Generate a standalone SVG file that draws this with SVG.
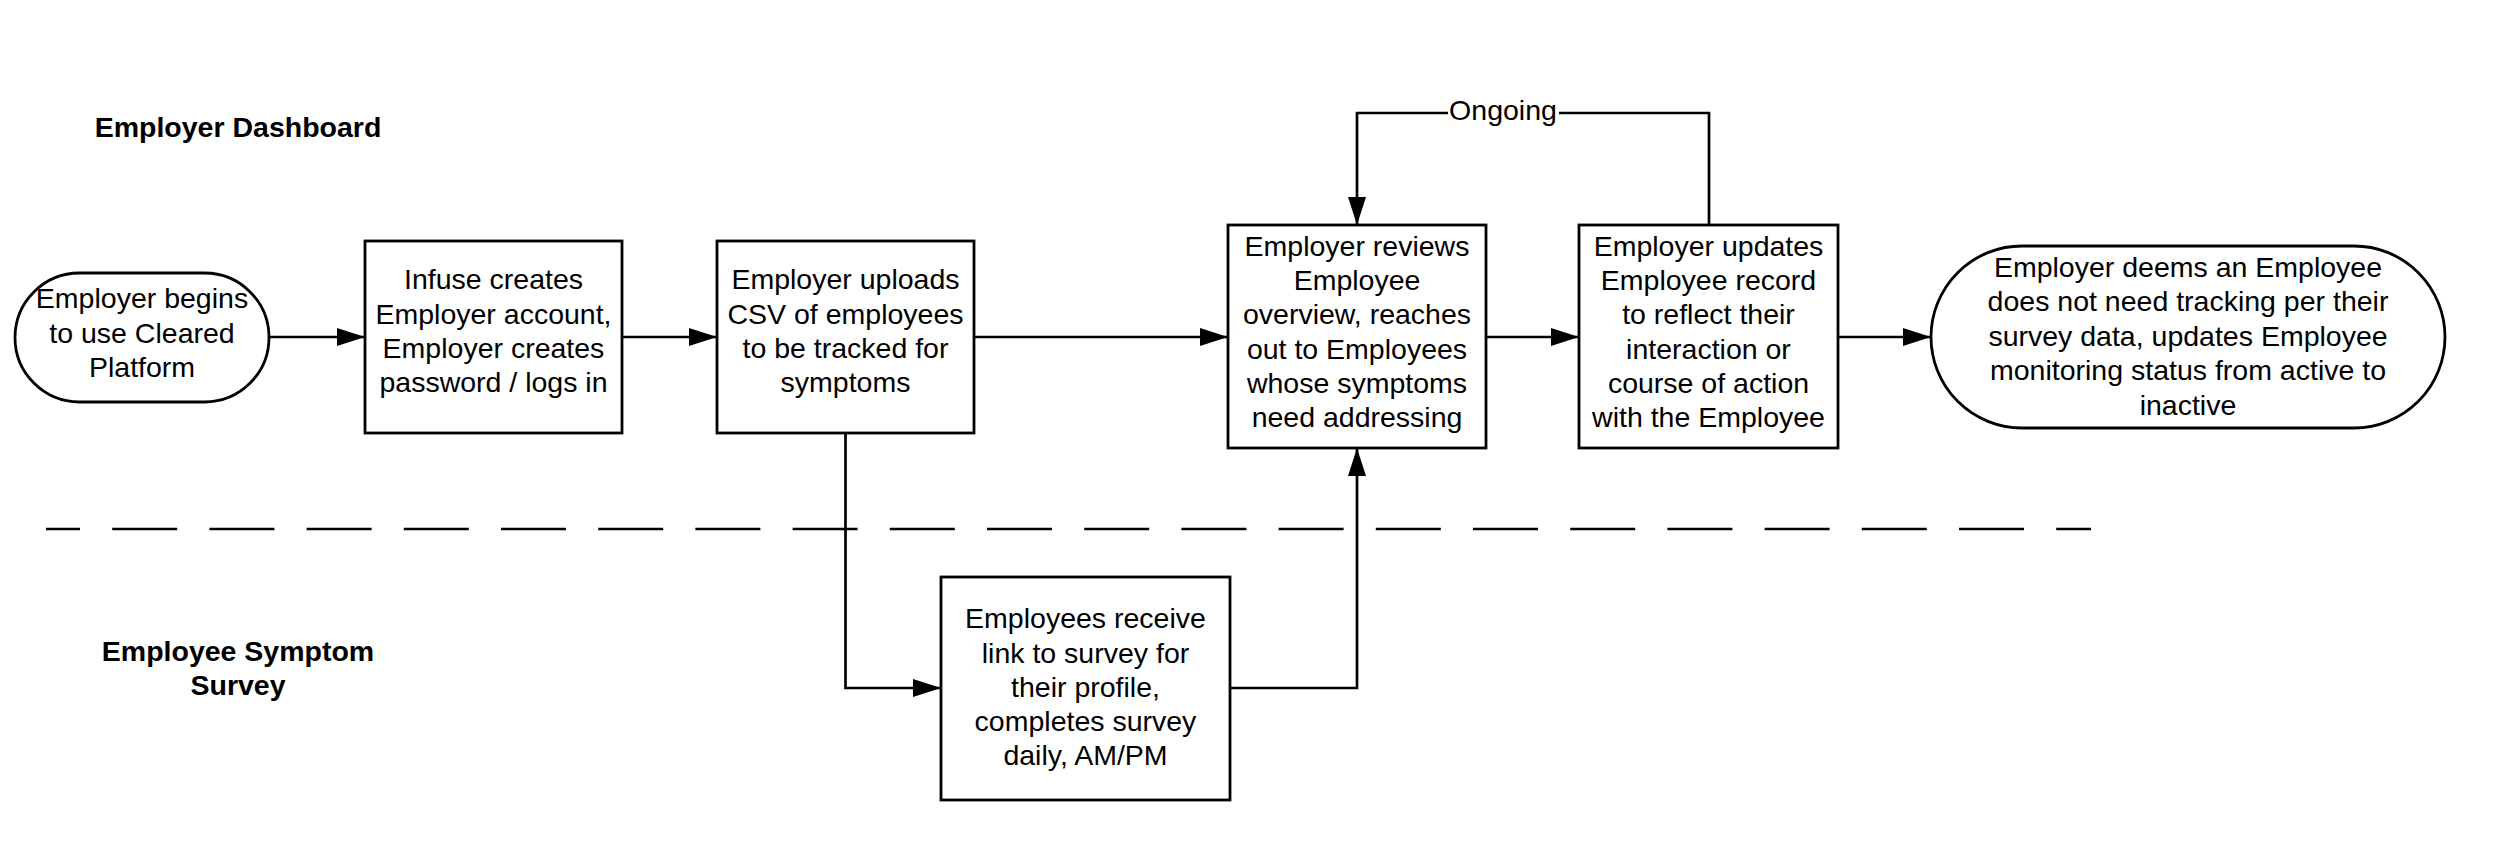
<svg xmlns="http://www.w3.org/2000/svg" width="2500" height="867" viewBox="0 0 2500 867">
<style>
.node{fill:#fff;stroke:#000;stroke-width:2.8}
.t{font-family:"Liberation Sans",Arial,sans-serif;font-size:28.5px;fill:#000;text-anchor:middle}
.b{font-weight:bold}
.c{fill:none;stroke:#000;stroke-width:2.7}
</style>
<defs>
<marker id="arr" markerUnits="userSpaceOnUse" markerWidth="28" markerHeight="18" refX="28" refY="9" orient="auto">
<path d="M0,0 L28,9 L0,18 z" fill="#000"/>
</marker>
</defs>
<rect width="2500" height="867" fill="#fff"/>
<g id="lanes">
<line x1="46" y1="529" x2="2091" y2="529" stroke="#000" stroke-width="2.7" stroke-dasharray="65 32.2" stroke-dashoffset="31"/>
<text class="t b" x="238" y="137">Employer Dashboard</text>
<text class="t b" x="238" y="660.5">Employee Symptom</text>
<text class="t b" x="238" y="695">Survey</text>
</g>
<g id="connectors">
<line class="c" x1="269" y1="337" x2="365" y2="337" marker-end="url(#arr)"/>
<line class="c" x1="622" y1="337" x2="717" y2="337" marker-end="url(#arr)"/>
<line class="c" x1="974" y1="337" x2="1228" y2="337" marker-end="url(#arr)"/>
<line class="c" x1="1486" y1="337" x2="1579" y2="337" marker-end="url(#arr)"/>
<line class="c" x1="1838" y1="337" x2="1931" y2="337" marker-end="url(#arr)"/>
<path class="c" d="M1709,225 V113 H1357 V225" marker-end="url(#arr)"/>
<rect x="1448" y="97" width="111" height="32" fill="#fff"/>
<text class="t" x="1503" y="120">Ongoing</text>
<path class="c" d="M845.5,433 V688 H941" marker-end="url(#arr)"/>
<path class="c" d="M1230,688 H1357 V448" marker-end="url(#arr)"/>
</g>
<g id="n1">
<rect class="node" x="15" y="273" width="254" height="129" rx="64.5" ry="64.5"/>
<text class="t" x="142" y="308.3">Employer begins</text>
<text class="t" x="142" y="342.8">to use Cleared</text>
<text class="t" x="142" y="377">Platform</text>
</g>
<g id="n2">
<rect class="node" x="365" y="241" width="257" height="192"/>
<text class="t" x="493.5" y="289.3">Infuse creates</text>
<text class="t" x="493.5" y="323.5">Employer account,</text>
<text class="t" x="493.5" y="357.7">Employer creates</text>
<text class="t" x="493.5" y="391.9">password / logs in</text>
</g>
<g id="n3">
<rect class="node" x="717" y="241" width="257" height="192"/>
<text class="t" x="845.5" y="289.3">Employer uploads</text>
<text class="t" x="845.5" y="323.5">CSV of employees</text>
<text class="t" x="845.5" y="357.7">to be tracked for</text>
<text class="t" x="845.5" y="391.9">symptoms</text>
</g>
<g id="n4">
<rect class="node" x="1228" y="225" width="258" height="223"/>
<text class="t" x="1357" y="255.7">Employer reviews</text>
<text class="t" x="1357" y="290">Employee</text>
<text class="t" x="1357" y="324.3">overview, reaches</text>
<text class="t" x="1357" y="358.6">out to Employees</text>
<text class="t" x="1357" y="392.9">whose symptoms</text>
<text class="t" x="1357" y="427.2">need addressing</text>
</g>
<g id="n5">
<rect class="node" x="1579" y="225" width="259" height="223"/>
<text class="t" x="1708.5" y="255.7">Employer updates</text>
<text class="t" x="1708.5" y="290">Employee record</text>
<text class="t" x="1708.5" y="324.3">to reflect their</text>
<text class="t" x="1708.5" y="358.6">interaction or</text>
<text class="t" x="1708.5" y="392.9">course of action</text>
<text class="t" x="1708.5" y="427.2">with the Employee</text>
</g>
<g id="n6">
<rect class="node" x="1931" y="246" width="514" height="182" rx="91" ry="91"/>
<text class="t" x="2188" y="276.7">Employer deems an Employee</text>
<text class="t" x="2188" y="311.2">does not need tracking per their</text>
<text class="t" x="2188" y="345.7">survey data, updates Employee</text>
<text class="t" x="2188" y="380.2">monitoring status from active to</text>
<text class="t" x="2188" y="414.7">inactive</text>
</g>
<g id="n7">
<rect class="node" x="941" y="577" width="289" height="223"/>
<text class="t" x="1085.5" y="628.3">Employees receive</text>
<text class="t" x="1085.5" y="662.5">link to survey for</text>
<text class="t" x="1085.5" y="696.7">their profile,</text>
<text class="t" x="1085.5" y="730.9">completes survey</text>
<text class="t" x="1085.5" y="765.1">daily, AM/PM</text>
</g>
</svg>
